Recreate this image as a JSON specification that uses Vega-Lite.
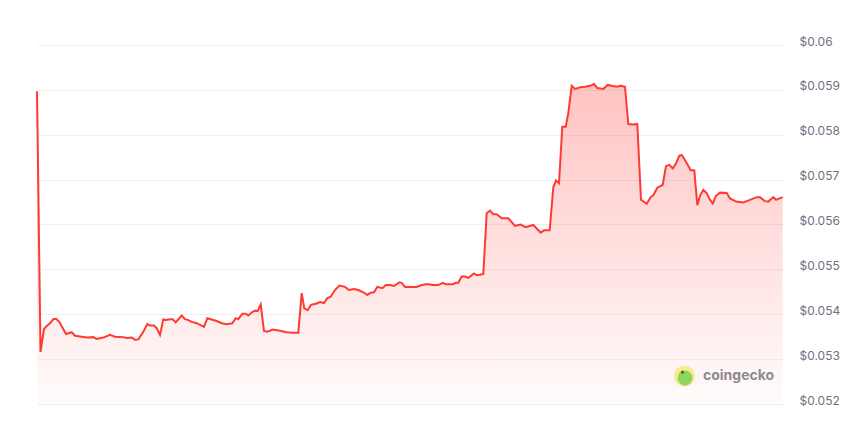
{
  "$schema": "https://vega.github.io/schema/vega-lite/v6.json",
  "width": 746,
  "height": 359,
  "autosize": "none",
  "padding": {"left": 37, "top": 45, "right": 84, "bottom": 18},
  "background": "#ffffff",
  "config": {"view": {"stroke": null}, "font": "Inter"},
  "datasets": {
    "price": [
      {"t": 0, "p": 0.05897}, {"t": 3.5, "p": 0.05316}, {"t": 7, "p": 0.05367}, {"t": 9.7, "p": 0.05374},
      {"t": 13, "p": 0.0538}, {"t": 16.3, "p": 0.05389}, {"t": 19, "p": 0.0539}, {"t": 22.3, "p": 0.05383},
      {"t": 29, "p": 0.05356}, {"t": 34.7, "p": 0.0536}, {"t": 38, "p": 0.05352}, {"t": 44.7, "p": 0.0535},
      {"t": 50.3, "p": 0.05348}, {"t": 56.3, "p": 0.05349}, {"t": 59.7, "p": 0.05345}, {"t": 66.3, "p": 0.05348},
      {"t": 73, "p": 0.05354}, {"t": 78, "p": 0.0535}, {"t": 86.3, "p": 0.05349}, {"t": 89.7, "p": 0.05347},
      {"t": 94.7, "p": 0.05348}, {"t": 98, "p": 0.05343}, {"t": 101.3, "p": 0.05344}, {"t": 106.3, "p": 0.05361},
      {"t": 110.3, "p": 0.05378}, {"t": 113, "p": 0.05375}, {"t": 117, "p": 0.05375}, {"t": 119.7, "p": 0.05369},
      {"t": 123, "p": 0.05354}, {"t": 126.3, "p": 0.05389}, {"t": 129, "p": 0.05387}, {"t": 133, "p": 0.05389},
      {"t": 135.7, "p": 0.05389}, {"t": 138.7, "p": 0.05382}, {"t": 144.7, "p": 0.05397}, {"t": 148, "p": 0.05389},
      {"t": 151.3, "p": 0.05387}, {"t": 154.7, "p": 0.05383}, {"t": 159.7, "p": 0.0538}, {"t": 167, "p": 0.05372},
      {"t": 170.3, "p": 0.05391}, {"t": 173.7, "p": 0.05389}, {"t": 179.7, "p": 0.05385}, {"t": 184.7, "p": 0.0538},
      {"t": 189.7, "p": 0.05378}, {"t": 195.3, "p": 0.0538}, {"t": 198.7, "p": 0.05391}, {"t": 201.3, "p": 0.05389},
      {"t": 205.3, "p": 0.05401}, {"t": 208.7, "p": 0.05401}, {"t": 211.3, "p": 0.05397}, {"t": 214.7, "p": 0.05404},
      {"t": 218, "p": 0.05408}, {"t": 220.7, "p": 0.05407}, {"t": 223.7, "p": 0.05422}, {"t": 227, "p": 0.05363},
      {"t": 230.3, "p": 0.05361}, {"t": 235.7, "p": 0.05366}, {"t": 243, "p": 0.05363}, {"t": 249.7, "p": 0.0536},
      {"t": 254.7, "p": 0.05359}, {"t": 261.3, "p": 0.05359}, {"t": 264.7, "p": 0.05447}, {"t": 267.3, "p": 0.05413},
      {"t": 270.7, "p": 0.05409}, {"t": 274, "p": 0.05421}, {"t": 279.7, "p": 0.05424}, {"t": 283, "p": 0.05427},
      {"t": 287, "p": 0.05425}, {"t": 290.3, "p": 0.05436}, {"t": 293.7, "p": 0.05439}, {"t": 298, "p": 0.05454},
      {"t": 302.3, "p": 0.05464}, {"t": 308, "p": 0.05461}, {"t": 312, "p": 0.05454}, {"t": 317, "p": 0.05456},
      {"t": 321.3, "p": 0.05454}, {"t": 326.3, "p": 0.05449}, {"t": 330.3, "p": 0.05443}, {"t": 333.7, "p": 0.05448},
      {"t": 337, "p": 0.05449}, {"t": 340.3, "p": 0.05461}, {"t": 345.3, "p": 0.05458}, {"t": 349, "p": 0.05465},
      {"t": 353, "p": 0.05465}, {"t": 357, "p": 0.05463}, {"t": 362.3, "p": 0.05471}, {"t": 364.7, "p": 0.0547},
      {"t": 368, "p": 0.05461}, {"t": 376.3, "p": 0.05461}, {"t": 379.7, "p": 0.05461}, {"t": 384.7, "p": 0.05465},
      {"t": 389, "p": 0.05467}, {"t": 391.3, "p": 0.05467}, {"t": 395.7, "p": 0.05465}, {"t": 401.3, "p": 0.05465},
      {"t": 405.7, "p": 0.0547}, {"t": 408.7, "p": 0.05467}, {"t": 413, "p": 0.05467}, {"t": 415.7, "p": 0.05467},
      {"t": 419, "p": 0.0547}, {"t": 421.3, "p": 0.0547}, {"t": 424.7, "p": 0.05484}, {"t": 428, "p": 0.05484},
      {"t": 431.3, "p": 0.05481}, {"t": 437, "p": 0.05491}, {"t": 439.7, "p": 0.05487}, {"t": 443, "p": 0.05488},
      {"t": 446.3, "p": 0.0549}, {"t": 449.7, "p": 0.05625}, {"t": 453, "p": 0.05631}, {"t": 456.3, "p": 0.05623},
      {"t": 459.7, "p": 0.05623}, {"t": 464.7, "p": 0.05614}, {"t": 471.3, "p": 0.05614}, {"t": 478, "p": 0.05597},
      {"t": 483.7, "p": 0.056}, {"t": 488.7, "p": 0.05594}, {"t": 496.3, "p": 0.05599}, {"t": 503.7, "p": 0.05582},
      {"t": 507, "p": 0.05587}, {"t": 512.7, "p": 0.05587}, {"t": 516.3, "p": 0.05683}, {"t": 519, "p": 0.05698},
      {"t": 522, "p": 0.05692}, {"t": 525.3, "p": 0.05818}, {"t": 528.7, "p": 0.05818}, {"t": 531.3, "p": 0.05848},
      {"t": 534.7, "p": 0.05909}, {"t": 538, "p": 0.05902}, {"t": 541.3, "p": 0.05904}, {"t": 543, "p": 0.05906},
      {"t": 548, "p": 0.05907}, {"t": 553, "p": 0.05909}, {"t": 557, "p": 0.05913}, {"t": 560.3, "p": 0.05904},
      {"t": 566.3, "p": 0.05902}, {"t": 570.7, "p": 0.05911}, {"t": 574.7, "p": 0.05909}, {"t": 579.7, "p": 0.05907},
      {"t": 584, "p": 0.05909}, {"t": 588, "p": 0.05907}, {"t": 591.3, "p": 0.05824}, {"t": 596.3, "p": 0.05823},
      {"t": 600.3, "p": 0.05824}, {"t": 604, "p": 0.05655}, {"t": 609.7, "p": 0.05646}, {"t": 614, "p": 0.05662},
      {"t": 616.3, "p": 0.05665}, {"t": 620.3, "p": 0.05682}, {"t": 625.7, "p": 0.05688}, {"t": 629, "p": 0.0573},
      {"t": 632.3, "p": 0.05733}, {"t": 635.7, "p": 0.05725}, {"t": 639, "p": 0.05736}, {"t": 642.3, "p": 0.05753},
      {"t": 644.7, "p": 0.05755}, {"t": 649, "p": 0.0574}, {"t": 653.7, "p": 0.05721}, {"t": 657.3, "p": 0.05721},
      {"t": 660.3, "p": 0.05643}, {"t": 663, "p": 0.05664}, {"t": 666.3, "p": 0.05677}, {"t": 669.7, "p": 0.0567},
      {"t": 673, "p": 0.05655}, {"t": 675.7, "p": 0.05647}, {"t": 679, "p": 0.05664}, {"t": 683, "p": 0.05671},
      {"t": 689.7, "p": 0.0567}, {"t": 693, "p": 0.05658}, {"t": 699, "p": 0.05651}, {"t": 706.3, "p": 0.05649},
      {"t": 713, "p": 0.05655}, {"t": 719.7, "p": 0.05661}, {"t": 723, "p": 0.05661}, {"t": 728, "p": 0.05652},
      {"t": 731.3, "p": 0.05651}, {"t": 736.3, "p": 0.05661}, {"t": 739, "p": 0.05655}, {"t": 745.7, "p": 0.05661}
    ],
    "brand": [
      {"t": 666, "p": 0.052624, "label": "coingecko"}
    ],
    "logo": [
      {"t": 647.5, "p": 0.052624, "part": "ring"}
    ],
    "gecko": [
      {"t": 648, "p": 0.05258, "part": "body"}
    ],
    "eye": [
      {"t": 645.5, "p": 0.05271, "part": "eye"}
    ]
  },
  "layer": [
    {
      "data": {"name": "price"},
      "mark": {
        "type": "area",
        "interpolate": "linear",
        "color": {
          "gradient": "linear",
          "x1": 0, "y1": 0, "x2": 0, "y2": 1,
          "stops": [
            {"offset": 0, "color": "rgba(255,58,51,0.30)"},
            {"offset": 1, "color": "rgba(255,58,51,0.02)"}
          ]
        }
      },
      "encoding": {
        "x": {"field": "t", "type": "quantitative", "scale": {"domain": [0, 746], "nice": false, "zero": false}, "axis": null},
        "y": {
          "field": "p", "type": "quantitative",
          "scale": {"domain": [0.052, 0.06], "nice": false, "zero": false},
          "axis": {
            "orient": "right",
            "values": [0.052, 0.053, 0.054, 0.055, 0.056, 0.057, 0.058, 0.059, 0.06],
            "format": "$.3~f",
            "title": null,
            "domain": false,
            "ticks": false,
            "grid": true,
            "gridColor": "#eef0f3",
            "gridWidth": 1,
            "labelPadding": 16,
            "labelFontSize": 12,
            "labelColor": "#6b7280",
            "labelFont": "Inter",
            "labelOffset": -4
          }
        },
        "y2": {"datum": 0.052}
      }
    },
    {
      "data": {"name": "price"},
      "mark": {"type": "line", "color": "#ff3a33", "strokeWidth": 2, "interpolate": "linear"},
      "encoding": {
        "x": {"field": "t", "type": "quantitative"},
        "y": {"field": "p", "type": "quantitative"}
      }
    },
    {
      "data": {"name": "logo"},
      "mark": {"type": "point", "filled": true, "shape": "circle", "size": 440, "color": "#f6ec8d", "opacity": 1},
      "encoding": {
        "x": {"field": "t", "type": "quantitative"},
        "y": {"field": "p", "type": "quantitative"}
      }
    },
    {
      "data": {"name": "gecko"},
      "mark": {"type": "point", "filled": true, "shape": "circle", "size": 220, "color": "#8fd65e", "opacity": 1},
      "encoding": {
        "x": {"field": "t", "type": "quantitative"},
        "y": {"field": "p", "type": "quantitative"}
      }
    },
    {
      "data": {"name": "eye"},
      "mark": {"type": "point", "filled": true, "shape": "circle", "size": 10, "color": "#5b5b5b", "opacity": 1},
      "encoding": {
        "x": {"field": "t", "type": "quantitative"},
        "y": {"field": "p", "type": "quantitative"}
      }
    },
    {
      "data": {"name": "brand"},
      "mark": {"type": "text", "align": "left", "baseline": "middle", "font": "Inter", "fontSize": 14, "fontWeight": "bold", "color": "#8b8a90"},
      "encoding": {
        "x": {"field": "t", "type": "quantitative"},
        "y": {"field": "p", "type": "quantitative"},
        "text": {"field": "label"}
      }
    }
  ]
}
